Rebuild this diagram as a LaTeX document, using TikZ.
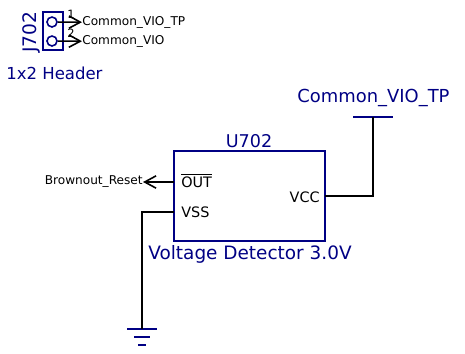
\documentclass[tikz,border=0pt]{standalone}
\usepackage{fontspec}
\setmainfont{DejaVu Sans}
\definecolor{schblue}{RGB}{0,0,132}
\usetikzlibrary{arrows.meta, positioning}

\tikzset{
  part/.style={draw=schblue, line width=0.9pt, inner sep=0pt},
  title/.style={text=schblue, font=\fontsize{10}{10}\selectfont, inner sep=0pt},
  pinname/.style={font=\fontsize{8.2}{8}\selectfont, inner sep=0pt},
  netname/.style={font=\fontsize{6.9}{7}\selectfont, inner sep=0pt},
  pinnum/.style={font=\fontsize{6.5}{6}\selectfont, inner sep=0pt},
  wire/.style={draw=black, line width=0.9pt},
  sig/.style={wire, -{Straight Barb[length=6.5pt, width=7pt, line width=0.9pt]}},
  hole/.style={circle, draw=schblue, line width=0.9pt, minimum size=0.2cm, inner sep=0pt},
}

\begin{document}
\begin{tikzpicture}
\useasboundingbox (0,0) rectangle (9.3,7.06);

% header
\node[part, minimum width=0.4cm, minimum height=0.76cm] (J702) at (1.06,6.44) {};
\node[hole] (hole1) at (1.04,6.62) {};
\node[hole] (hole2) at (1.04,6.24) {};
\node[title, rotate=90, font=\fontsize{10.6}{10}\selectfont] (J702ref) at (0.62,6.42) {J702};
\node[title, anchor=west, font=\fontsize{9.4}{10}\selectfont] (J702val) at (0.12,5.6) {1x2 Header};

\node[netname, anchor=west] (netTP) at (1.64,6.61) {Common\_VIO\_TP};
\node[netname, anchor=west] (netVIO) at (1.64,6.23) {Common\_VIO};
\node[pinnum] (num1) at (1.42,6.78) {1};
\node[pinnum] (num2) at (1.42,6.4) {2};
\draw[sig] (hole1) -- (netTP);
\draw[sig] (hole2) -- (netVIO);

% detector
\node[part, minimum width=3.02cm, minimum height=1.8cm] (U702) at (4.99,3.14) {};
\node[title] (U702ref) at (4.98,4.24) {U702};
\node[title, anchor=west, font=\fontsize{10.5}{10}\selectfont] (U702val) at (2.96,1.98) {Voltage Detector 3.0V};

\node[pinname, anchor=west] (pinOUT) at (3.62,3.46) {\(\overline{\mbox{OUT}}\)};
\node[pinname, anchor=west] (pinVSS) at (3.62,2.82) {VSS};
\node[pinname, anchor=east] (pinVCC) at (6.4,3.12) {VCC};
\coordinate (outpin) at (3.48,3.42);
\coordinate (vsspin) at (3.48,2.82);
\coordinate (vccpin) at (6.5,3.14);

% power
\coordinate (rail) at (7.46,4.72);
\draw[part] (7.06,4.72) -- (7.86,4.72);
\node[title, anchor=south, font=\fontsize{10.2}{10}\selectfont] (railname) at (7.47,4.92) {Common\_VIO\_TP};
\draw[wire] (vccpin) -| (rail);

% reset
\node[netname, anchor=east] (netRST) at (2.86,3.42) {Brownout\_Reset};
\draw[sig] (outpin) -- (netRST);

% ground
\coordinate (gnd) at (2.84,0.48);
\draw[part] (2.54,0.48) -- (3.14,0.48);
\draw[part] (2.68,0.32) -- (3,0.32);
\draw[part] (2.76,0.16) -- (2.92,0.16);
\draw[wire] (vsspin) -| (gnd);

\end{tikzpicture}
\end{document}
